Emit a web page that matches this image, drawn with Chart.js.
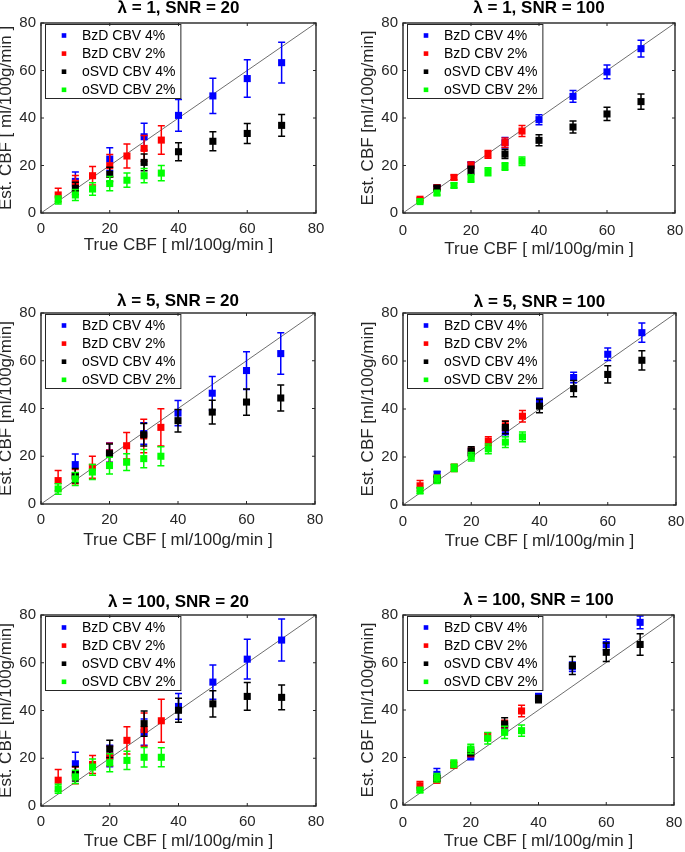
<!DOCTYPE html>
<html>
<head>
<meta charset="utf-8">
<script src="https://cdn.jsdelivr.net/npm/chart.js@4.4.1/dist/chart.umd.min.js"></script>
<style>
  html, body { margin: 0; padding: 0; background: #ffffff; }
  body { position: relative; width: 685px; height: 852px; overflow: hidden; }
</style>
</head>
<body>
<script>
// ---------------- DATA ----------------
const seriesLabels = ['BzD CBV 4%', 'BzD CBV 2%', 'oSVD CBV 4%', 'oSVD CBV 2%'];
const seriesColors = ['#0000ff', '#ff0000', '#000000', '#00ff00'];
const trueCbf4 = [10, 20, 30, 40, 50, 60, 70];   // CBV 4 %
const trueCbf2 = [5, 10, 15, 20, 25, 30, 35];    // CBV 2 %
const axisTicks = [0, 20, 40, 60, 80];
const panelTitles = ['λ = 1, SNR = 20', 'λ = 1, SNR = 100', 'λ = 5, SNR = 20', 'λ = 5, SNR = 100', 'λ = 100, SNR = 20', 'λ = 100, SNR = 100'];
const xAxisLabel = 'True CBF [ ml/100g/min ]';
const yAxisLabels = ['Est. CBF [ ml/100g/min ]', 'Est. CBF [ml/100g/min]', 'Est. CBF [ml/100g/min]', 'Est. CBF [ml/100g/min]', 'Est. CBF [ml/100g/min]', 'Est. CBF [ml/100g/min]'];

// λ = 1, SNR = 20
const l1s20Bzd4 = [13.3, 22.7, 32.1, 41.1, 49.3, 56.6, 63.3];
const l1s20Bzd4Err = [4, 4.8, 5.7, 6.7, 7.4, 7.9, 8.6];
const l1s20Bzd2 = [7.6, 12.5, 15.7, 19.9, 24, 27.2, 30.7];
const l1s20Bzd2Err = [2.8, 3.3, 3.9, 4.7, 5.1, 5.4, 6];
const l1s20Osvd4 = [10.4, 16.3, 21.3, 25.8, 30.2, 33.5, 36.9];
const l1s20Osvd4Err = [2.6, 3, 3.5, 3.8, 4, 4.2, 4.6];
const l1s20Osvd2 = [5.5, 7.6, 10.1, 12.4, 13.8, 15.7, 16.8];
const l1s20Osvd2Err = [1.7, 2.3, 2.6, 3, 3, 3, 3.2];

// λ = 1, SNR = 100
const l1s100Bzd4 = [10.7, 20.2, 29.6, 39.3, 49.1, 59.4, 69.2];
const l1s100Bzd4Err = [0.9, 1.3, 2.2, 2.1, 2.5, 2.9, 3.5];
const l1s100Bzd2 = [5.8, 10.7, 15, 20.2, 24.7, 29.6, 34.5];
const l1s100Bzd2Err = [0.6, 0.8, 1, 1.2, 1.6, 2, 2.3];
const l1s100Osvd4 = [10.5, 18, 24.8, 30.6, 36.2, 41.7, 46.9];
const l1s100Osvd4Err = [0.8, 1.7, 1.9, 2.3, 2.5, 2.8, 3.2];
const l1s100Osvd2 = [4.8, 8.4, 11.6, 14.5, 17.4, 19.6, 21.8];
const l1s100Osvd2Err = [0.6, 0.8, 1, 1.6, 1.7, 1.6, 1.8];

// λ = 5, SNR = 20
const l5s20Bzd4 = [16.5, 21.5, 29.5, 38.1, 46.4, 55.9, 63];
const l5s20Bzd4Err = [4.4, 4, 4.5, 5.3, 7, 7.9, 8.7];
const l5s20Bzd2 = [9.8, 11.5, 15.4, 21.4, 24.4, 28.5, 32.1];
const l5s20Bzd2Err = [4.2, 3, 4.6, 4, 5.6, 7, 7.8];
const l5s20Osvd4 = [11.9, 21.1, 29, 34.9, 38.5, 42.7, 44.4];
const l5s20Osvd4Err = [3, 4, 4.7, 4.7, 5, 5.5, 5.4];
const l5s20Osvd2 = [6.3, 10.5, 13.4, 16.1, 17.5, 19, 20];
const l5s20Osvd2Err = [2.2, 2.7, 3.1, 3.5, 3.5, 3.8, 4];

// λ = 5, SNR = 100
const l5s100Bzd4 = [12.8, 22, 30.5, 42.5, 53.1, 62.8, 71.8];
const l5s100Bzd4Err = [1.2, 1.5, 2, 2, 2.2, 2.6, 4];
const l5s100Bzd2 = [8, 11.1, 15.5, 22, 26.6, 33, 37];
const l5s100Bzd2Err = [2.2, 1.4, 1.5, 1.8, 1.8, 2, 2.4];
const l5s100Osvd4 = [10.7, 22.5, 32.3, 41.2, 48.5, 54.4, 60.3];
const l5s100Osvd4Err = [1.3, 1.8, 2.6, 2.8, 3.4, 3.6, 4];
const l5s100Osvd2 = [6, 10.7, 15.5, 20.1, 23.4, 26.2, 28.4];
const l5s100Osvd2Err = [1.3, 1.7, 1.5, 1.8, 2, 2.2, 2];

// λ = 100, SNR = 20
const l100s20Bzd4 = [17.7, 20.9, 30.9, 41.7, 51.9, 61.5, 69.5];
const l100s20Bzd4Err = [4.8, 4.5, 5.5, 5.4, 7.2, 8.3, 8.8];
const l100s20Bzd2 = [10.8, 12.8, 17.4, 20.9, 27.5, 32, 35.7];
const l100s20Bzd2Err = [4.5, 3.5, 3.8, 4, 5.7, 7, 9];
const l100s20Osvd4 = [13.5, 23.9, 34.5, 40.1, 42.8, 45.9, 45.5];
const l100s20Osvd4Err = [3, 3.6, 5.3, 5, 5.5, 5.8, 5.2];
const l100s20Osvd2 = [7.2, 12.2, 16.3, 18.1, 19.1, 20.4, 20.4];
const l100s20Osvd2Err = [1.9, 2.8, 3.4, 3.8, 3.8, 4.1, 4];

// λ = 100, SNR = 100
const l100s100Bzd4 = [12.9, 20.6, 32.3, 45.4, 58.2, 67.6, 76.9];
const l100s100Bzd4Err = [2.5, 1.5, 2, 1.5, 2, 2.2, 2.7];
const l100s100Bzd2 = [8.1, 10.5, 16.8, 21.8, 28.8, 33.7, 39.6];
const l100s100Bzd2Err = [1.8, 1.2, 1.2, 1.5, 1.6, 2, 2.4];
const l100s100Osvd4 = [11.2, 22.5, 34.1, 44.6, 58.7, 64.3, 67.6];
const l100s100Osvd4Err = [1.2, 1.8, 2.6, 1.5, 3.8, 3.9, 4.5];
const l100s100Osvd2 = [6.3, 11.5, 17.4, 23.6, 28.1, 30.6, 31.3];
const l100s100Osvd2Err = [1, 1.8, 1.6, 2, 2.4, 2.6, 2.4];

const panelSeries = [
  [[l1s20Bzd4, l1s20Bzd4Err], [l1s20Bzd2, l1s20Bzd2Err], [l1s20Osvd4, l1s20Osvd4Err], [l1s20Osvd2, l1s20Osvd2Err]],
  [[l1s100Bzd4, l1s100Bzd4Err], [l1s100Bzd2, l1s100Bzd2Err], [l1s100Osvd4, l1s100Osvd4Err], [l1s100Osvd2, l1s100Osvd2Err]],
  [[l5s20Bzd4, l5s20Bzd4Err], [l5s20Bzd2, l5s20Bzd2Err], [l5s20Osvd4, l5s20Osvd4Err], [l5s20Osvd2, l5s20Osvd2Err]],
  [[l5s100Bzd4, l5s100Bzd4Err], [l5s100Bzd2, l5s100Bzd2Err], [l5s100Osvd4, l5s100Osvd4Err], [l5s100Osvd2, l5s100Osvd2Err]],
  [[l100s20Bzd4, l100s20Bzd4Err], [l100s20Bzd2, l100s20Bzd2Err], [l100s20Osvd4, l100s20Osvd4Err], [l100s20Osvd2, l100s20Osvd2Err]],
  [[l100s100Bzd4, l100s100Bzd4Err], [l100s100Bzd2, l100s100Bzd2Err], [l100s100Osvd4, l100s100Osvd4Err], [l100s100Osvd2, l100s100Osvd2Err]]
];
const seriesX = [trueCbf4, trueCbf2, trueCbf4, trueCbf2];

// ---------------- LAYOUT (page pixel boxes of each axes) ----------------
const panelBoxes = [
  {L: 41, T: 23, R: 316, B: 213, titleGap: 14.5, tickGap: 16, xTitleGap: 32},
  {L: 403, T: 23, R: 675, B: 213, titleGap: 15, tickGap: 18, xTitleGap: 36},
  {L: 41, T: 313, R: 315, B: 504, titleGap: 12, tickGap: 16, xTitleGap: 36},
  {L: 403, T: 313, R: 676, B: 505, titleGap: 10.5, tickGap: 16.5, xTitleGap: 36.5},
  {L: 41, T: 615, R: 316, B: 806, titleGap: 13, tickGap: 15.5, xTitleGap: 35},
  {L: 403, T: 615, R: 674, B: 805, titleGap: 15, tickGap: 18, xTitleGap: 36.5}
];
const FONT = "'Liberation Sans', Arial, Helvetica, sans-serif";
const AXIS_COLOR = '#262626';
const RIGHT_PAD = 22;

// ---------------- PLUGINS ----------------
const errorBarPlugin = {
  id: 'errorBars',
  beforeDatasetDraw(chart, args) {
    const ds = chart.data.datasets[args.index];
    if (!ds.errorValues) return;
    const {ctx} = chart;
    const xs = chart.scales.x, ys = chart.scales.y;
    ctx.save();
    ctx.strokeStyle = ds.backgroundColor;
    ctx.lineWidth = 1.5;
    ds.data.forEach((p, i) => {
      const e = ds.errorValues[i];
      const px = xs.getPixelForValue(p.x);
      const top = ys.getPixelForValue(p.y + e);
      const bot = ys.getPixelForValue(p.y - e);
      ctx.beginPath();
      ctx.moveTo(px, top); ctx.lineTo(px, bot);
      ctx.moveTo(px - 3.5, top); ctx.lineTo(px + 3.5, top);
      ctx.moveTo(px - 3.5, bot); ctx.lineTo(px + 3.5, bot);
      ctx.stroke();
    });
    ctx.restore();
  }
};

const frameLegendPlugin = {
  id: 'frameLegend',
  afterDraw(chart) {
    const {ctx, chartArea: a} = chart;
    ctx.save();
    // legend box (inside axes, top-left)
    const items = chart.data.datasets.filter(d => d.errorValues);
    ctx.font = '14px ' + FONT;
    let maxW = 0;
    items.forEach(d => { maxW = Math.max(maxW, ctx.measureText(d.label).width); });
    const bx = a.left + 4.5, by = a.top + 1.5;
    const bw = 36.5 + maxW + 5.5, bh = 74;
    ctx.fillStyle = '#ffffff';
    ctx.fillRect(bx, by, bw, bh);
    ctx.strokeStyle = AXIS_COLOR;
    ctx.lineWidth = 1;
    ctx.strokeRect(bx, by, bw, bh);
    ctx.textBaseline = 'middle';
    ctx.textAlign = 'left';
    items.forEach((d, i) => {
      const cy = by + 11 + i * 18.1;
      ctx.fillStyle = d.backgroundColor;
      ctx.fillRect(bx + 18.5 - 2.3, cy - 2.3, 4.6, 4.6);
      ctx.fillStyle = '#000000';
      ctx.fillText(d.label, bx + 36.5, cy + 0.5);
    });
    // axes frame with inward ticks
    ctx.strokeStyle = AXIS_COLOR;
    ctx.lineWidth = 1.4;
    ctx.strokeRect(a.left, a.top, a.right - a.left, a.bottom - a.top);
    ctx.lineWidth = 1;
    const tl = 3;
    ctx.beginPath();
    chart.scales.x.ticks.forEach(t => {
      const px = chart.scales.x.getPixelForValue(t.value);
      ctx.moveTo(px, a.bottom); ctx.lineTo(px, a.bottom - tl);
      ctx.moveTo(px, a.top); ctx.lineTo(px, a.top + tl);
    });
    chart.scales.y.ticks.forEach(t => {
      const py = chart.scales.y.getPixelForValue(t.value);
      ctx.moveTo(a.left, py); ctx.lineTo(a.left + tl, py);
      ctx.moveTo(a.right, py); ctx.lineTo(a.right - tl, py);
    });
    ctx.stroke();
    ctx.restore();
  }
};

// ---------------- CHARTS ----------------
function makePanel(i) {
  const b = panelBoxes[i];
  const cx = b.L - 45, cy = b.T - 40;
  const cw = b.R - cx + RIGHT_PAD, ch = b.B - cy + 53;
  const canvas = document.createElement('canvas');
  canvas.width = cw; canvas.height = ch;
  canvas.style.cssText = `position:absolute;left:${cx}px;top:${cy}px;width:${cw}px;height:${ch}px;`;
  document.body.appendChild(canvas);

  const tpb = Math.max(0, b.titleGap - 10.2);
  const datasets = panelSeries[i].map((s, k) => ({
    type: 'scatter',
    label: seriesLabels[k],
    data: seriesX[k].map((x, j) => ({x: x, y: s[0][j]})),
    errorValues: s[1],
    backgroundColor: seriesColors[k],
    borderColor: seriesColors[k],
    pointStyle: 'rect',
    pointRadius: 5,
    pointBorderWidth: 0,
    order: 3 - k
  }));
  datasets.push({
    type: 'line',
    label: 'identity',
    data: [{x: axisTicks[0], y: axisTicks[0]}, {x: axisTicks[axisTicks.length - 1], y: axisTicks[axisTicks.length - 1]}],
    borderColor: '#6e6e6e',
    borderWidth: 1,
    pointRadius: 0,
    fill: false,
    order: 10
  });

  const tickSet = s => { s.ticks = axisTicks.map(v => ({value: v})); };

  new Chart(canvas, {
    type: 'scatter',
    data: {datasets},
    options: {
      responsive: false,
      animation: false,
      devicePixelRatio: 1,
      events: [],
      layout: {padding: {left: 0, right: RIGHT_PAD, top: 40 - 20.4 - tpb, bottom: 5}},
      plugins: {
        legend: {display: false},
        tooltip: {enabled: false},
        title: {
          display: true,
          text: panelTitles[i],
          fullSize: false,
          color: '#000000',
          font: {size: 17, weight: 'bold', family: FONT},
          padding: {top: 0, bottom: tpb}
        }
      },
      scales: {
        x: {
          type: 'linear', min: 0, max: 80,
          afterBuildTicks: tickSet,
          afterFit: s => { s.height = 48; },
          grid: {display: false, drawTicks: false, tickLength: 0},
          border: {display: false},
          ticks: {padding: b.tickGap - 9, color: AXIS_COLOR, font: {size: 15, family: FONT}},
          title: {display: true, text: xAxisLabel, color: AXIS_COLOR, font: {size: 17, family: FONT}, padding: {top: 0, bottom: 37.8 - b.xTitleGap}}
        },
        y: {
          type: 'linear', min: 0, max: 80,
          afterBuildTicks: tickSet,
          afterFit: s => { s.width = 45; },
          grid: {display: false, drawTicks: false, tickLength: 0},
          border: {display: false},
          ticks: {padding: 5, color: AXIS_COLOR, font: {size: 15, family: FONT}},
          title: {display: true, text: yAxisLabels[i], color: AXIS_COLOR, font: {size: 17, family: FONT}, padding: {top: 0, bottom: 0}}
        }
      }
    },
    plugins: [errorBarPlugin, frameLegendPlugin]
  });
}
for (let i = 0; i < 6; i++) makePanel(i);
</script>
</body>
</html>
